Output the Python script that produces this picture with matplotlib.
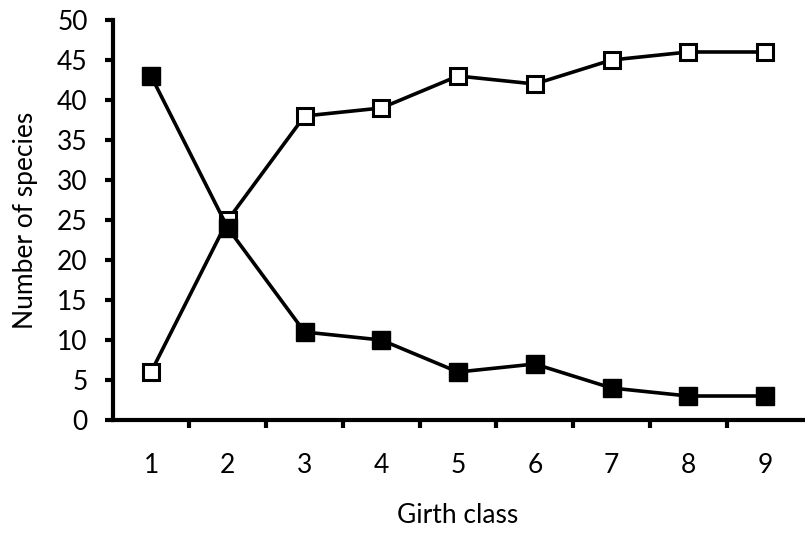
import matplotlib.pyplot as plt

girth_class = [1, 2, 3, 4, 5, 6, 7, 8, 9]
open_series = [6, 25, 38, 39, 43, 42, 45, 46, 46]
filled_series = [43, 24, 11, 10, 6, 7, 4, 3, 3]
y_ticks = [0, 5, 10, 15, 20, 25, 30, 35, 40, 45, 50]

plt.rcParams['font.family'] = ['Lato', 'DejaVu Sans']

fig = plt.figure(figsize=(8.05, 5.36), dpi=100)
ax = fig.add_axes([0.140, 0.2164, 0.858, 0.7463])

ax.plot(girth_class, open_series, color='black', linewidth=2.6,
        marker='s', markersize=12, markerfacecolor='white',
        markeredgecolor='black', markeredgewidth=2.2, zorder=3)
ax.plot(girth_class, filled_series, color='black', linewidth=2.6,
        marker='s', markersize=13, markerfacecolor='black',
        markeredgecolor='black', zorder=3)

ax.set_xlim(0.5, 9.5)
ax.set_ylim(0, 50)
ax.set_yticks(y_ticks)
ax.set_xticks(girth_class)
ax.set_xticks([c + 0.5 for c in girth_class[:-1]], minor=True)
ax.tick_params(axis='x', which='major', length=0, pad=24, labelsize=19)
ax.tick_params(axis='x', which='minor', length=6, width=3, direction='out')
ax.tick_params(axis='y', length=6, width=3, direction='out', labelsize=19, pad=12)

for side in ['top', 'right']:
    ax.spines[side].set_visible(False)
for side in ['left', 'bottom']:
    ax.spines[side].set_linewidth(3)

ax.set_xlabel('Girth class', fontsize=19, labelpad=18)
ax.set_ylabel('Number of species', fontsize=19, labelpad=14)

fig.savefig('out.png', dpi=100)
